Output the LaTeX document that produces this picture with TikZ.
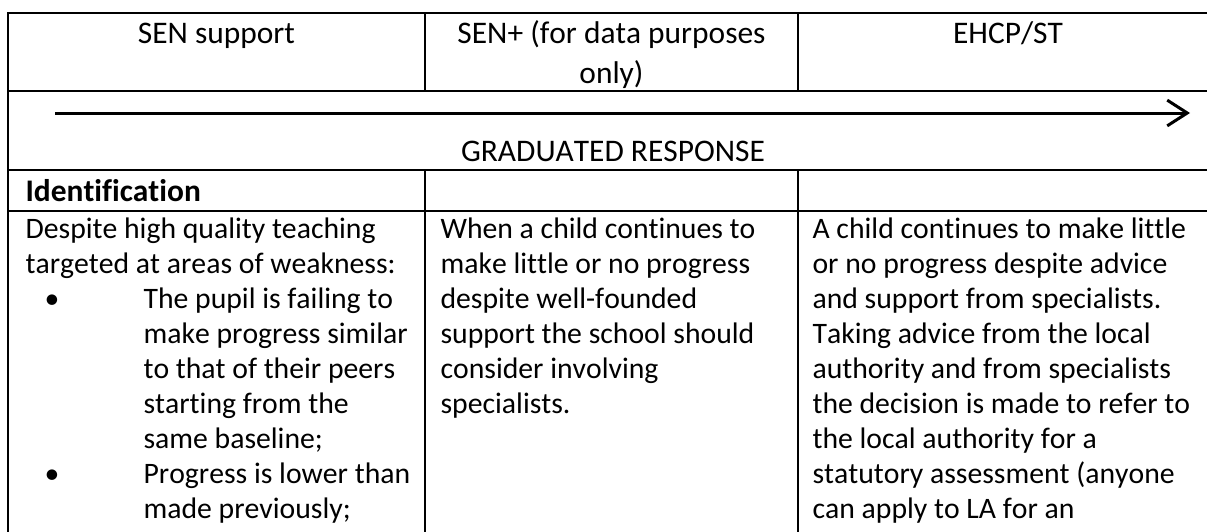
\documentclass[tikz,border=0pt]{standalone}
\usepackage{fontspec}
\setmainfont{Carlito}[Ligatures=NoCommon, Kerning=Off]
\usetikzlibrary{arrows.meta}
\tikzset{
    grid line/.style={line width=0.7pt},
    cell text/.style={anchor=base west, inner sep=0pt, align=left, font=\fontsize{10.4}{12.25}\selectfont},
    head text/.style={anchor=base, inner sep=0pt, align=center, font=\fontsize{11}{14}\selectfont},
    bullet mark/.style={anchor=base, inner sep=0pt, font=\fontsize{10.4}{12.25}\selectfont}
}

\begin{document}
\begin{tikzpicture}[x=0.35pt, y=-0.35pt]
    % Frame of the crop
    \useasboundingbox (0,0) rectangle (1207,531);
    \clip (0,0) rectangle (1207,531);

    % Globals
    \pgfmathsetmacro{\xMin}{8}
    \pgfmathsetmacro{\xMax}{1218}
    \pgfmathsetmacro{\colA}{425}
    \pgfmathsetmacro{\colB}{798}
    \pgfmathsetmacro{\yTop}{13}
    \pgfmathsetmacro{\yBot}{545}
    % body baseline and line pitch (multi-line nodes sit on their last line)
    \pgfmathsetmacro{\yBody}{238}
    \pgfmathsetmacro{\lineH}{35}

    % Table grid
    \draw[grid line] (\xMin,\yTop) rectangle (\xMax,\yBot);
    \draw[grid line] (\xMin,91) -- (\xMax,91);
    \draw[grid line] (\xMin,170) -- (\xMax,170);
    \draw[grid line] (\xMin,211) -- (\xMax,211);
    \draw[grid line] (\colA,\yTop) -- (\colA,91);
    \draw[grid line] (\colB,\yTop) -- (\colB,91);
    \draw[grid line] (\colA,170) -- (\colA,\yBot);
    \draw[grid line] (\colB,170) -- (\colB,\yBot);

    % Header row
    \node[head text] (HEAD_SEN) at (216.5,43) {SEN support};
    \node[head text] (HEAD_PLUS) at (611.5,83) {SEN+ (for data purposes\\only)};
    \node[head text] (HEAD_EHCP) at (1008,43) {EHCP/ST};

    % Graduated response arrow
    \coordinate (ARROW_W) at (55,113);
    \coordinate (ARROW_E) at (1190,113);
    \draw[line width=1.05pt, -{Straight Barb[length=7pt, width=9pt, line width=1.05pt]}] (ARROW_W) -- (ARROW_E);
    \node[head text] (GRAD) at (613,161) {GRADUATED RESPONSE};

    % Identification row
    \node[cell text, font=\fontsize{11}{12.25}\selectfont] (IDENT) at (25,201) {\textbf{Identification}};

    % Column 1
    \node[cell text] (SUPPORT_TXT) at (25,{\yBody+\lineH}) {Despite high quality teaching\\targeted at areas of weakness:};
    \node[bullet mark] (BUL_1) at (52,{\yBody+2*\lineH}) {\textbullet};
    \node[cell text] (ITEM_1) at (143,{\yBody+6*\lineH}) {The pupil is failing to\\make progress similar\\to that of their peers\\starting from the\\same baseline;};
    \node[bullet mark] (BUL_2) at (52,{\yBody+7*\lineH}) {\textbullet};
    \node[cell text] (ITEM_2) at (143,{\yBody+8*\lineH}) {Progress is lower than\\made previously;};

    % Column 2
    \node[cell text] (PLUS_TXT) at (440,{\yBody+5*\lineH}) {When a child continues to\\make little or no progress\\despite well-founded\\support the school should\\consider involving\\specialists.};

    % Column 3
    \node[cell text] (EHCP_TXT) at (812,{\yBody+8*\lineH}) {A child continues to make little\\or no progress despite advice\\and support from specialists.\\Taking advice from the local\\authority and from specialists\\the decision is made to refer to\\the local authority for a\\statutory assessment (anyone\\can apply to LA for an};

\end{tikzpicture}
\end{document}
